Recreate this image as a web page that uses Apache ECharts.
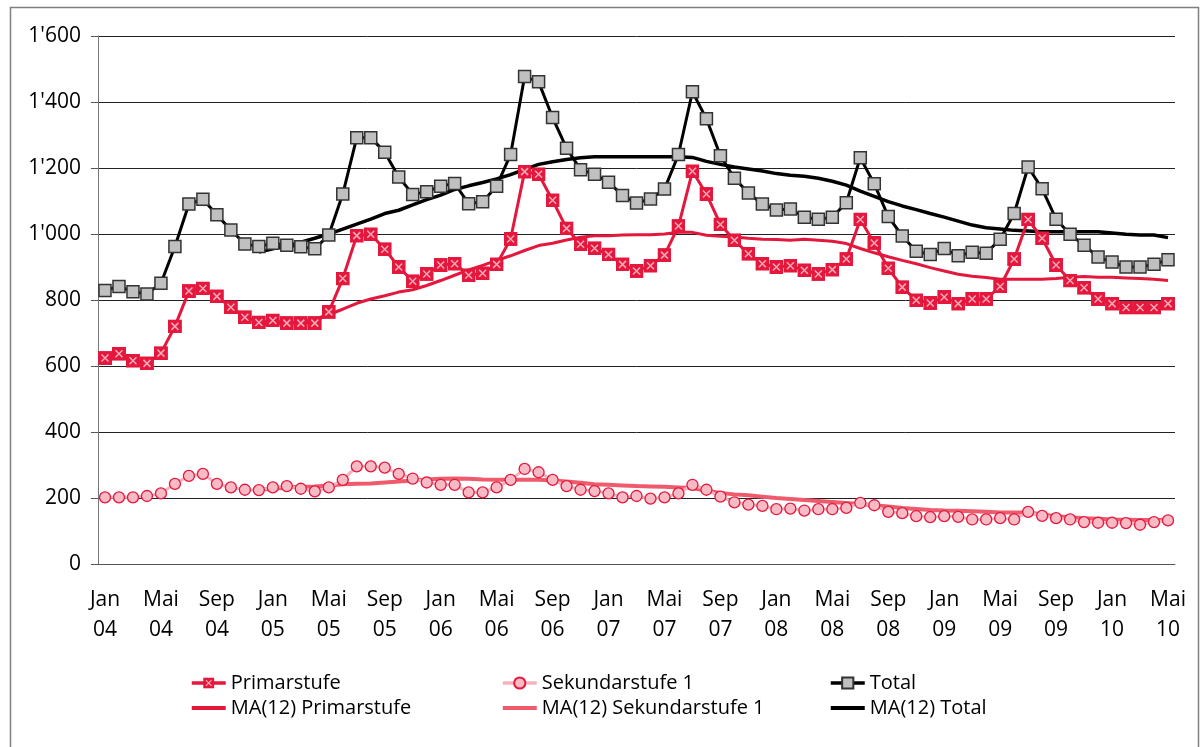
<!DOCTYPE html>
<html>
<head>
<meta charset="utf-8">
<script src="https://cdn.jsdelivr.net/npm/echarts@6/dist/echarts.min.js"></script>
<style>
  html, body { margin: 0; padding: 0; background: #fff; }
  #chart { width: 1200px; height: 747px; }
</style>
</head>
<body>
<div id="chart"></div>
<script>
// Monatswerte Jan 04 - Mai 10
const monthNames = ['Jan', 'Feb', 'Mär', 'Apr', 'Mai', 'Jun', 'Jul', 'Aug', 'Sep', 'Okt', 'Nov', 'Dez']
const years = ['04', '05', '06', '07', '08', '09', '10']
const categories = []
years.forEach(y => monthNames.forEach(m => categories.push(m + ' ' + y)))
categories.length = 77

const primarstufe = [624, 637, 616, 608, 639, 720, 827, 835, 811, 778,
  748, 732, 738, 730, 730, 730, 764, 865, 995, 999,
  954, 900, 857, 879, 906, 910, 875, 881, 908, 985,
  1189, 1181, 1102, 1017, 969, 957, 938, 908, 888, 904,
  936, 1024, 1190, 1121, 1029, 981, 940, 910, 900, 904,
  890, 879, 892, 924, 1044, 973, 896, 839, 799, 791,
  809, 789, 803, 803, 841, 924, 1044, 987, 906, 859,
  837, 803, 789, 777, 777, 777, 789]

const sekundarstufe = [202, 202, 202, 206, 214, 243, 267, 273, 243, 232,
  225, 224, 232, 236, 228, 220, 232, 255, 296, 296,
  292, 273, 259, 247, 240, 240, 217, 217, 232, 255,
  288, 278, 255, 236, 225, 221, 214, 202, 206, 198,
  202, 214, 240, 225, 204, 187, 180, 176, 166, 168,
  162, 166, 166, 170, 185, 178, 158, 154, 145, 142,
  145, 143, 135, 135, 139, 135, 158, 146, 139, 135,
  127, 125, 125, 124, 119, 127, 132]

const total = [829, 841, 825, 818, 851, 962, 1091, 1105, 1058, 1012,
  970, 962, 972, 966, 961, 955, 997, 1121, 1292, 1292,
  1248, 1173, 1120, 1128, 1145, 1153, 1092, 1098, 1145, 1241,
  1477, 1461, 1353, 1260, 1195, 1181, 1157, 1117, 1094, 1106,
  1136, 1241, 1431, 1349, 1237, 1169, 1124, 1091, 1073, 1076,
  1051, 1045, 1051, 1095, 1231, 1152, 1053, 994, 948, 938,
  956, 934, 945, 942, 984, 1062, 1203, 1137, 1045, 999,
  966, 930, 915, 900, 900, 908, 922]

// gleitende Durchschnitte, erst ab Dez 04
const maPrimarstufe = [null, null, null, null, null, null, null, null, null, null,
  null, 724, 727, 730, 734, 742, 756, 772, 790, 803,
  813, 824, 831, 844, 859, 875, 891, 905, 920, 934,
  950, 965, 972, 982, 990, 995, 995, 997, 998, 998,
  1000, 1005, 1005, 996, 993, 991, 987, 984, 983, 981,
  984, 981, 978, 971, 956, 943, 931, 920, 910, 898,
  888, 878, 872, 868, 863, 863, 863, 863, 865, 869,
  871, 869, 869, 867, 865, 863, 859]

const maSekundarstufe = [null, null, null, null, null, null, null, null, null, null,
  null, 225, 228, 232, 234, 235, 238, 242, 243, 244,
  247, 250, 253, 256, 258, 259, 258, 256, 255, 255,
  255, 255, 253, 250, 246, 242, 240, 238, 236, 235,
  234, 232, 230, 222, 215, 211, 208, 204, 200, 197,
  194, 191, 188, 185, 182, 178, 174, 170, 167, 164,
  162, 161, 160, 158, 156, 156, 156, 150, 145, 142,
  139, 137, 135, 134, 133, 133, 133]

const maTotal = [null, null, null, null, null, null, null, null, null, null,
  null, 945, 955, 964, 975, 987, 1000, 1015, 1030, 1045,
  1062, 1072, 1088, 1104, 1118, 1135, 1146, 1156, 1167, 1180,
  1196, 1211, 1219, 1226, 1231, 1234, 1234, 1234, 1234, 1234,
  1234, 1234, 1232, 1220, 1211, 1203, 1197, 1191, 1183, 1178,
  1175, 1169, 1160, 1148, 1130, 1114, 1098, 1085, 1074, 1062,
  1051, 1039, 1027, 1019, 1015, 1011, 1009, 1007, 1007, 1007,
  1007, 1007, 1003, 999, 997, 997, 989]

const RED = '#E4173D'
const FONT = 'Open Sans'

// rotes Quadrat mit hellem Kreuz
const crossSvg = "<svg xmlns='http://www.w3.org/2000/svg' width='28' height='28'>" +
  "<rect width='28' height='28' fill='" + RED + "'/>" +
  "<path d='M7 7L21 21M21 7L7 21' stroke='#F6A9B7' stroke-width='3'/></svg>"
const crossSymbol = 'image://data:image/svg+xml;charset=utf-8,' + encodeURIComponent(crossSvg)
const lineIcon = 'path://M0 0H34V4H0Z'

const chart = echarts.init(document.getElementById('chart'))

const legendBase = {
  orient: 'vertical',
  top: 668,
  itemWidth: 34,
  itemHeight: 14,
  itemGap: 5,
  selectedMode: false,
  lineStyle: { width: 3.5 },
  textStyle: { fontFamily: FONT, fontSize: 20, color: '#000', lineHeight: 20 }
}

chart.setOption({
  animation: false,
  textStyle: { fontFamily: FONT },
  grid: { left: 98, right: 25, top: 36, bottom: 183 },
  graphic: [{
    type: 'rect',
    shape: { x: 10.5, y: 7.5, width: 1188, height: 760 },
    style: { fill: 'none', stroke: '#808080', lineWidth: 1.5 },
    silent: true
  }],
  legend: [
    Object.assign({ left: 185, data: ['Primarstufe', { name: 'MA(12) Primarstufe', icon: lineIcon }] }, legendBase),
    Object.assign({ left: 496, data: ['Sekundarstufe 1', { name: 'MA(12) Sekundarstufe 1', icon: lineIcon }] }, legendBase),
    Object.assign({ left: 824, data: ['Total', { name: 'MA(12) Total', icon: lineIcon }] }, legendBase)
  ],
  xAxis: {
    type: 'category',
    data: categories,
    boundaryGap: true,
    axisLine: { lineStyle: { color: '#555', width: 1 } },
    axisTick: { interval: 3, length: 6, lineStyle: { color: '#555' } },
    axisLabel: {
      interval: 3,
      margin: 21,
      fontSize: 21,
      lineHeight: 30,
      color: '#000',
      formatter: v => v.replace(' ', '\n')
    }
  },
  yAxis: {
    type: 'value',
    min: 0,
    max: 1600,
    interval: 200,
    axisLine: { show: true, lineStyle: { color: '#777', width: 1 } },
    axisTick: { show: true, length: 7, lineStyle: { color: '#555' } },
    axisLabel: {
      margin: 17,
      fontSize: 21,
      color: '#000',
      formatter: v => String(v).replace(/\B(?=(\d{3})+(?!\d))/g, "'")
    },
    splitLine: { lineStyle: { color: '#222', width: 1 } }
  },
  series: [
    {
      name: 'MA(12) Sekundarstufe 1',
      type: 'line',
      data: maSekundarstufe,
      symbol: 'none',
      lineStyle: { color: '#EF5A6C', width: 4 },
      itemStyle: { color: '#EF5A6C' }
    },
    {
      name: 'MA(12) Primarstufe',
      type: 'line',
      data: maPrimarstufe,
      symbol: 'none',
      lineStyle: { color: RED, width: 3 },
      itemStyle: { color: RED }
    },
    {
      name: 'MA(12) Total',
      type: 'line',
      data: maTotal,
      symbol: 'none',
      lineStyle: { color: '#000', width: 3.5 },
      itemStyle: { color: '#000' }
    },
    {
      name: 'Sekundarstufe 1',
      type: 'line',
      data: sekundarstufe,
      symbol: 'circle',
      symbolSize: 11,
      showAllSymbol: true,
      lineStyle: { color: '#F6B3BF', width: 3 },
      itemStyle: { color: '#F8BBC5', borderColor: RED, borderWidth: 1.3 }
    },
    {
      name: 'Primarstufe',
      type: 'line',
      data: primarstufe,
      symbol: crossSymbol,
      symbolSize: 14,
      showAllSymbol: true,
      lineStyle: { color: RED, width: 3 },
      itemStyle: { color: RED }
    },
    {
      name: 'Total',
      type: 'line',
      data: total,
      symbol: 'rect',
      symbolSize: 12,
      showAllSymbol: true,
      lineStyle: { color: '#000', width: 3 },
      itemStyle: { color: '#C0C0C0', borderColor: '#333', borderWidth: 1.5 }
    }
  ]
})
</script>
</body>
</html>
